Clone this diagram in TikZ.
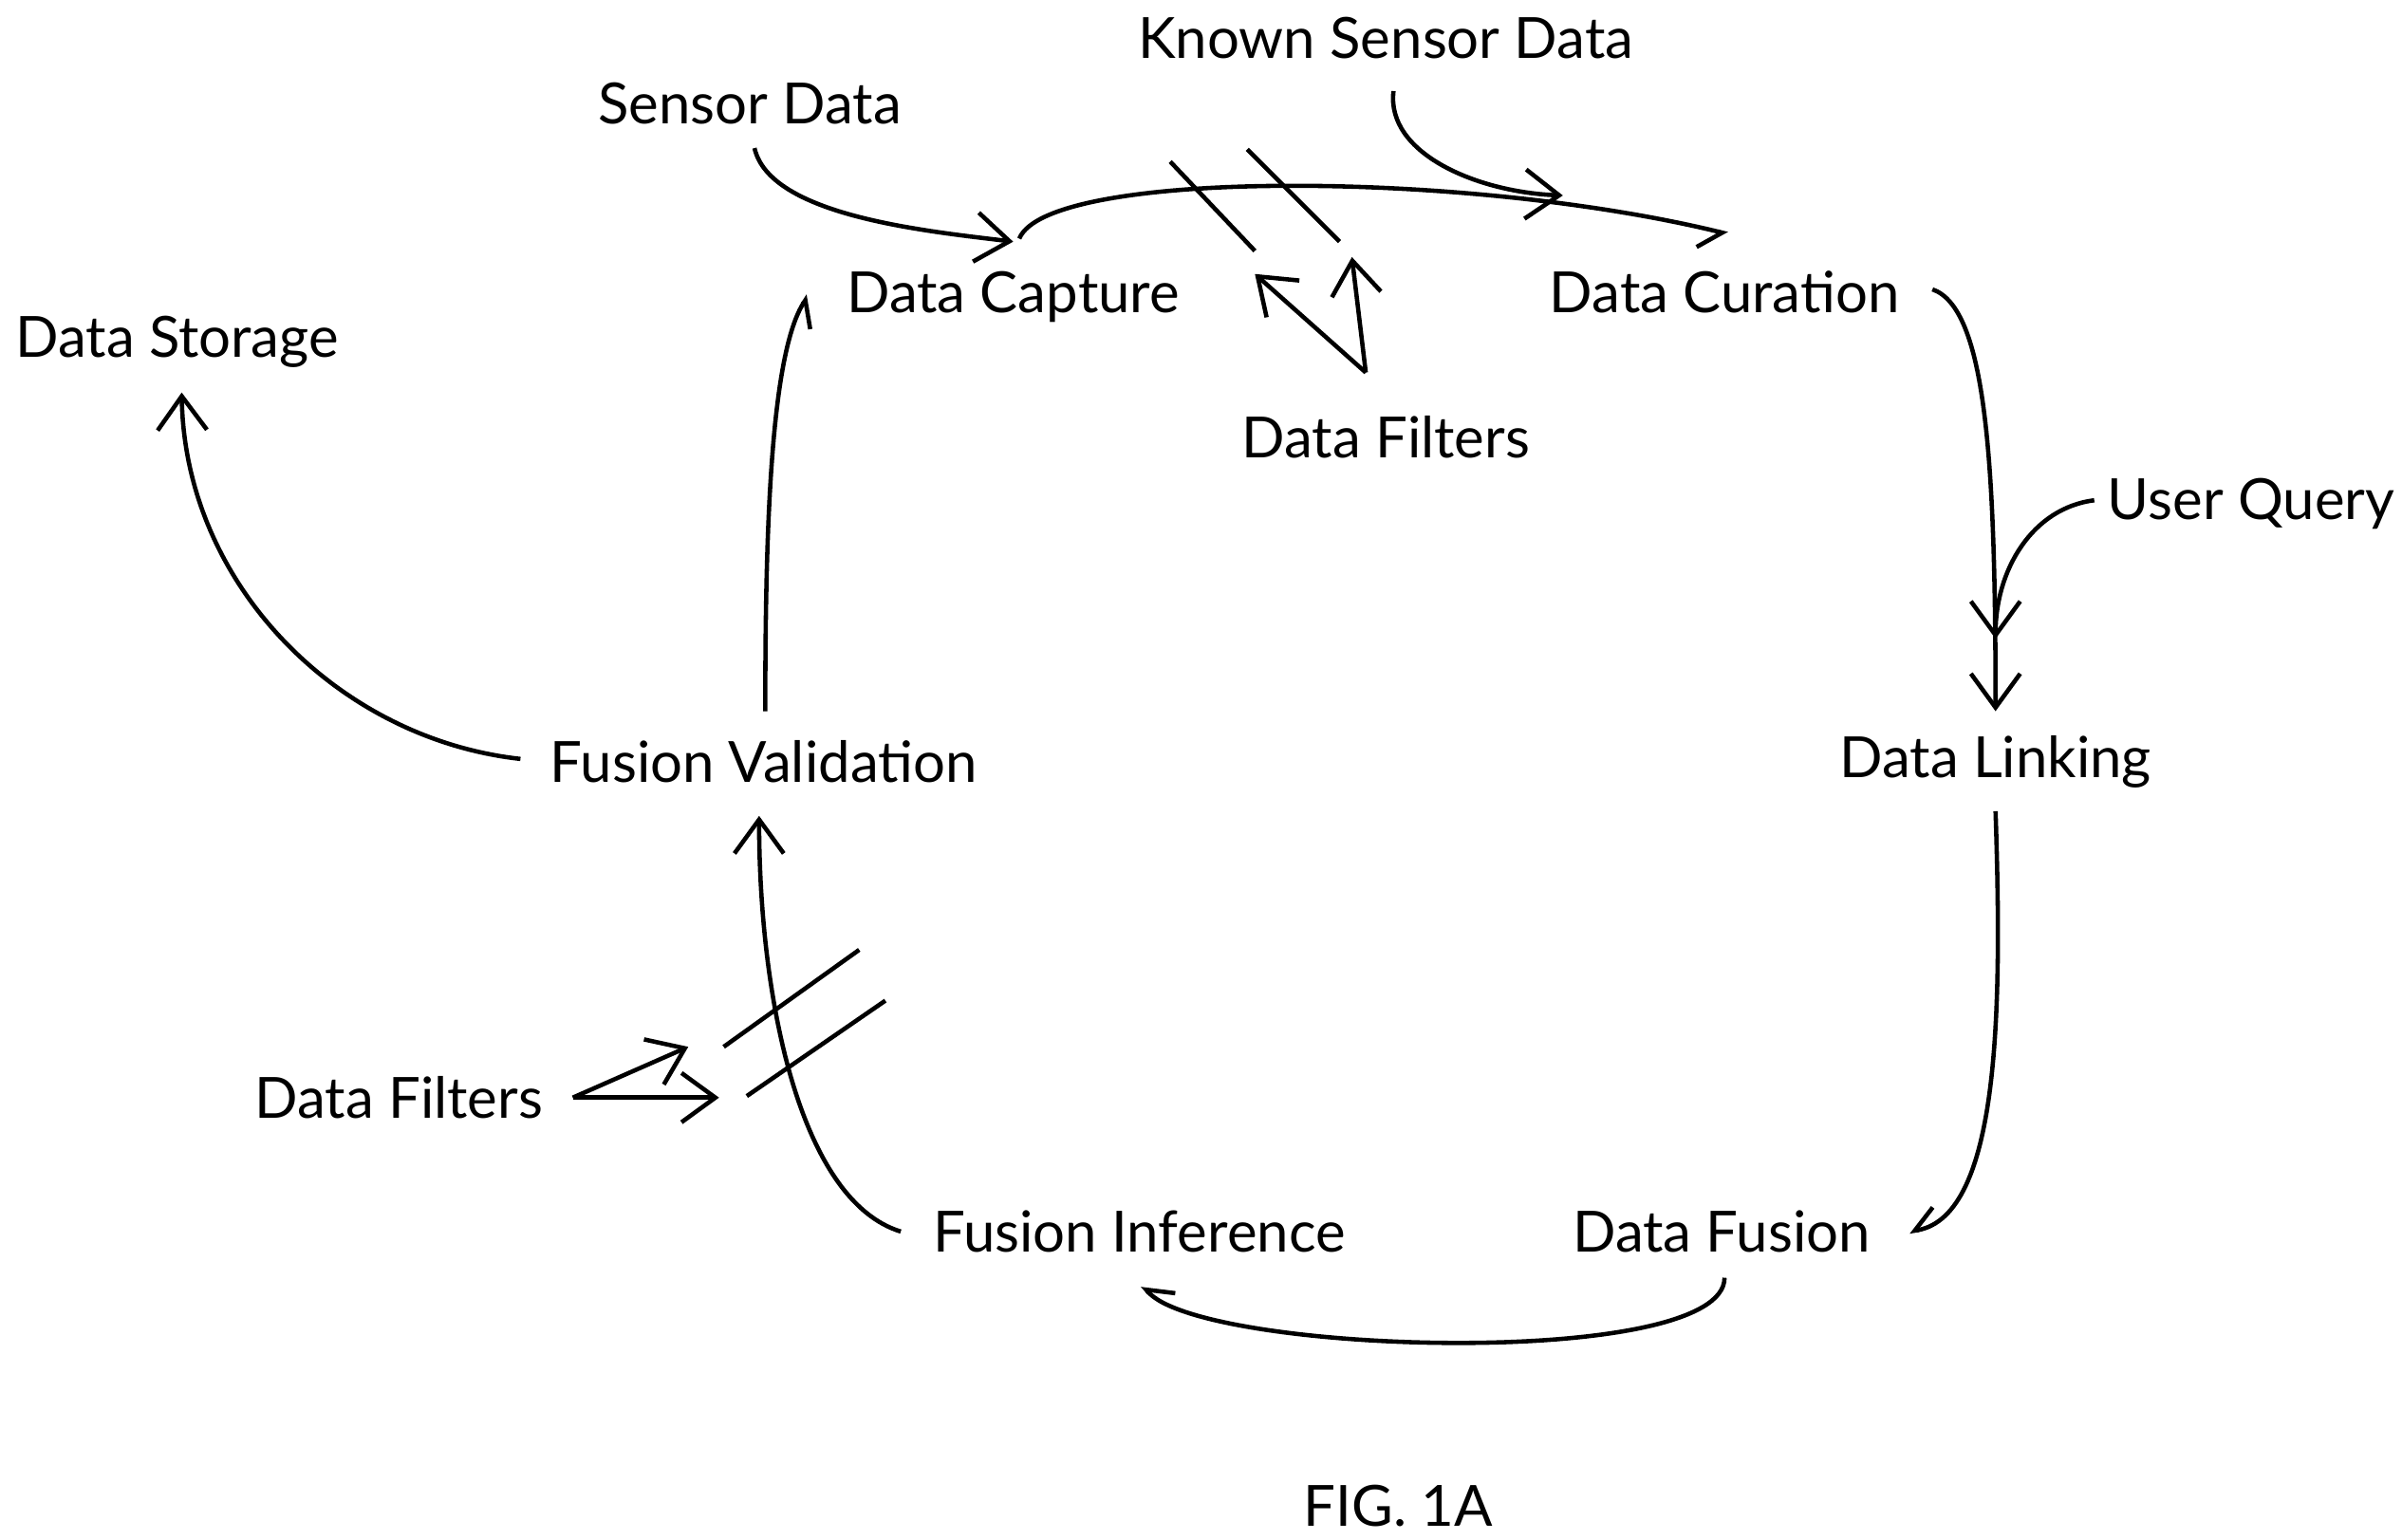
\documentclass[tikz,border=0pt]{standalone}
\usepackage{fontspec}
\setmainfont{Lato}
\usetikzlibrary{arrows.meta}
\begin{document}
\begin{tikzpicture}[x=1cm,y=1cm,
  lbl/.style={font=\fontsize{10.5}{12}\selectfont, inner sep=0pt},
  ln/.style={line width=0.8pt},
  ar/.style={ln,-{Straight Barb[length=2.2mm,width=3.2mm]}},
  hk/.style={ln,-{Straight Barb[harpoon,swap,length=1.4mm,width=2.6mm]}}]
\useasboundingbox (0,0) rectangle (15.6,10);
\node[lbl] (ksd) at (9.00,9.75) {Known Sensor Data};
\node[lbl] (sd) at (4.87,9.33) {Sensor Data};
\node[lbl] (dc) at (6.58,8.07) {Data Capture};
\node[lbl] (dcu) at (11.20,8.10) {Data Curation};
\node[lbl] (dst) at (1.15,7.78) {Data Storage};
\node[lbl] (df1) at (9.00,7.16) {Data Filters};
\node[lbl] (uq) at (14.62,6.73) {User Query};
\node[lbl] (dl) at (12.96,5.05) {Data Linking};
\node[lbl] (fv) at (4.96,5.05) {Fusion Validation};
\node[lbl] (df2) at (2.59,2.87) {Data Filters};
\node[lbl] (fi) at (7.40,2.00) {Fusion Inference};
\node[lbl] (dfu) at (11.18,2.00) {Data Fusion};
\node[lbl] (fig) at (9.08,0.22) {FIG. 1A};
\coordinate (a1) at (6.58,8.43);
\coordinate (a2) at (10.15,8.73);
\coordinate (c1) at (11.22,8.48);
\draw[ar] (sd.south) ++(0.03,-0.15) .. controls (5.0,8.6) and (6.0,8.5) .. (a1);
\draw[hk] (6.62,8.45) .. controls (6.8,8.9) and (9.5,8.9) .. (c1);
\draw[ar] (ksd.south) ++(0.05,-0.2) .. controls (9.0,9.0) and (9.6,8.75) .. (a2);
\draw[ln] (7.60,8.95) -- (8.15,8.37);
\draw[ln] (8.10,9.03) -- (8.70,8.43);
\draw[ar] (8.87,7.58) -- (8.15,8.22);
\draw[ar] (8.87,7.58) -- (8.78,8.33);
\draw[ar] (12.55,8.12) .. controls (12.9,8.0) and (12.96,7.0) .. (12.96,5.38);
\draw[ar] (uq.west) ++(-0.08,0.02) .. controls (13.2,6.7) and (12.96,6.3) .. (12.96,5.85);
\draw[hk] (12.96,4.73) .. controls (13.0,3.5) and (13.0,2.1) .. (12.40,2.00);
\draw[hk] (11.20,1.70) .. controls (11.2,1.1) and (7.8,1.2) .. (7.42,1.65);
\draw[ar] (5.85,2.00) .. controls (5.2,2.2) and (4.93,3.5) .. (4.93,4.70);
\draw[ln] (4.70,3.20) -- (5.58,3.83);
\draw[ln] (4.85,2.88) -- (5.75,3.50);
\draw[ar] (3.72,2.87) -- (4.47,3.20);
\draw[ar] (3.72,2.87) -- (4.67,2.87);
\draw[hk] (4.97,5.38) .. controls (4.97,6.5) and (5.0,7.7) .. (5.25,8.08);
\draw[ar] (3.38,5.07) .. controls (2.2,5.2) and (1.2,6.2) .. (1.18,7.45);
\end{tikzpicture}
\end{document}
